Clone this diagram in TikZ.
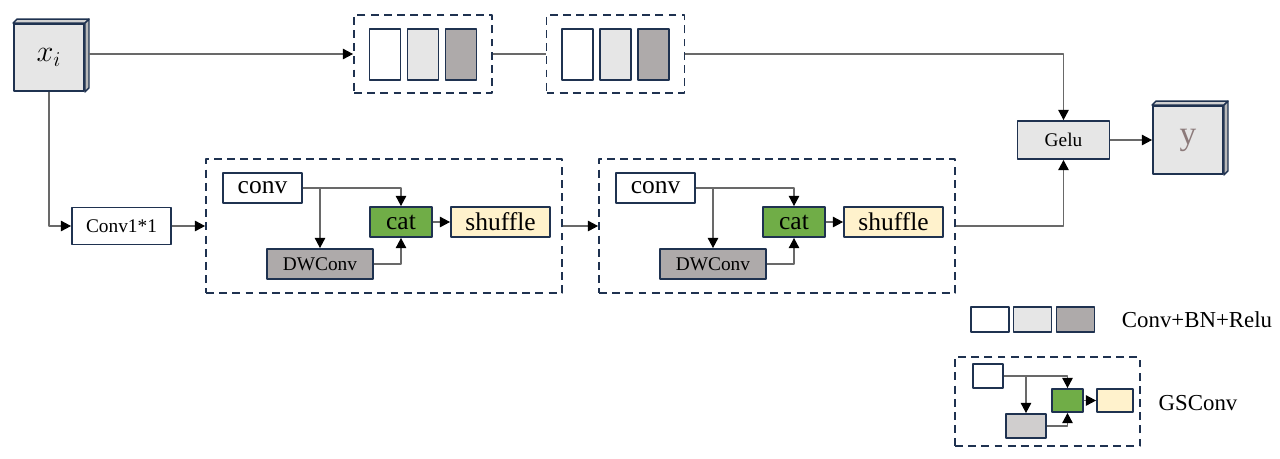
\documentclass[tikz,border=0pt]{standalone}
\usepackage{fontspec}
\setmainfont{Liberation Serif}
\usetikzlibrary{arrows.meta,calc,positioning}
\definecolor{navy}{RGB}{31,50,80}
\definecolor{lgray}{RGB}{230,230,230}
\definecolor{dgray}{RGB}{174,170,170}
\definecolor{sgray}{RGB}{208,206,206}
\definecolor{catgreen}{RGB}{112,173,71}
\definecolor{cream}{RGB}{255,242,204}
\definecolor{wirec}{RGB}{105,105,105}
\definecolor{ytext}{RGB}{140,122,122}

\begin{document}
\begin{tikzpicture}[x=0.02cm,y=-0.02cm,line join=round,
	blk/.style={draw=navy,line width=1.1pt,inner sep=0pt,fill=white},
	grp/.style={draw=navy,line width=1.1pt,dash pattern=on 4.5pt off 3pt,inner sep=0pt},
	wire/.style={draw=wirec,line width=0.6pt,-{Triangle[black,length=5.8pt,width=6pt]}},
	plain/.style={draw=wirec,line width=0.6pt},
	big/.style={font=\fontsize{14.5}{14.5}\selectfont},
	small/.style={font=\fontsize{11}{11}\selectfont}]
		\useasboundingbox (0,0) rectangle (1280,458);
		% input and output cubes
		\node[blk,fill=lgray,minimum width=1.4cm,minimum height=1.34cm,font=\fontsize{18}{18}\selectfont] (xi) at (49,57.5) {$x_i$};
		\node[blk,fill=lgray,minimum width=1.4cm,minimum height=1.36cm,text=ytext,font=\fontsize{19}{19}\selectfont] (yout) at (1188,140) {y};
		\foreach \c in {xi,yout}{
			\draw[navy,line width=0.8pt,fill=lgray!80!gray] (\c.north west) -- ++(4,-4) -- ($(\c.north east)+(4,-4)$) -- (\c.north east) -- cycle;
			\draw[navy,line width=0.8pt,fill=gray!55] (\c.north east) -- ++(4,-4) -- ($(\c.south east)+(4,-4)$) -- (\c.south east) -- cycle;}
		% top branch
		\foreach \n/\x in {1/423,2/615.5}{
			\node[grp,minimum width=2.76cm,minimum height=1.56cm] (top\n) at (\x,54) {};
			\foreach \f [count=\k] in {white,lgray,dgray}
				\node[blk,fill=\f,minimum width=0.62cm,minimum height=1.02cm] (cbr\n\k) at ({\x+38*(\k-2)},54.5) {};}
		\node[blk,fill=lgray,minimum width=1.84cm,minimum height=0.76cm,small] (gelu) at (1063.5,140) {Gelu};
		\node[blk,minimum width=1.98cm,minimum height=0.74cm,small] (pw) at (121.5,226) {Conv1*1};
		% GSConv blocks
		\foreach \n/\d in {1/0,2/393}{
			\node[grp,minimum width=7.12cm,minimum height=2.68cm] (gs\n) at ({384+\d},226) {};
			\node[blk,minimum width=1.58cm,minimum height=0.6cm,big] (conv\n) at ({262.5+\d},188) {conv};
			\node[blk,fill=dgray,minimum width=2.12cm,minimum height=0.6cm,small] (dw\n) at ({320+\d},264) {DWConv};
			\node[blk,fill=catgreen,minimum width=1.24cm,minimum height=0.6cm,big] (cat\n) at ({401+\d},222) {cat};
			\node[blk,fill=cream,minimum width=1.98cm,minimum height=0.6cm,big] (shuf\n) at ({500.5+\d},222) {shuffle};
			\draw[wire] (conv\n.east) -| (cat\n.north);
			\draw[wire] (conv\n.east -| dw\n.north) -- (dw\n.north);
			\draw[wire] (dw\n.east) -| (cat\n.south);
			\draw[wire] (cat\n.east) -- (shuf\n.west);}
		% main connections
		\draw[wire] (top1.west -| xi.east) ++(4,0) -- (top1.west);
		\draw[plain] (top1.east) -- (top2.west);
		\draw[wire] (top2.east) -| (gelu.north);
		\draw[wire] (gelu.east) -- (yout.west);
		\draw[wire] (xi.south) |- (pw.west);
		\draw[wire] (pw.east) -- (gs1.west);
		\draw[wire] (gs1.east) -- (gs2.west);
		\draw[wire] (gs2.east) -| (gelu.south);
		% legend
		\foreach \f/\x [count=\k] in {white/990,lgray/1032.5,dgray/1075.5}
			\node[blk,fill=\f,minimum width=0.76cm,minimum height=0.5cm] (key\k) at (\x,319.5) {};
		\node[font=\fontsize{13}{13}\selectfont] (keytxt) at (1197,320) {Conv+BN+Relu};
		\node[grp,minimum width=3.7cm,minimum height=1.78cm] (gskey) at (1047.5,401.5) {};
		\node[blk,minimum width=0.6cm,minimum height=0.48cm] (sconv) at (988,376) {};
		\node[blk,fill=sgray,minimum width=0.8cm,minimum height=0.48cm] (sdw) at (1026,426) {};
		\node[blk,fill=catgreen,minimum width=0.62cm,minimum height=0.46cm] (scat) at (1067.5,400.5) {};
		\node[blk,fill=cream,minimum width=0.72cm,minimum height=0.46cm] (sshuf) at (1115,400.5) {};
		\draw[wire] (sconv.east) -| (scat.north);
		\draw[wire] (sconv.east -| sdw.north) -- (sdw.north);
		\draw[wire] (sdw.east) -| (scat.south);
		\draw[wire] (scat.east) -- (sshuf.west);
		\node[font=\fontsize{13}{13}\selectfont] (gstxt) at (1198,403) {GSConv};
\end{tikzpicture}
\end{document}
